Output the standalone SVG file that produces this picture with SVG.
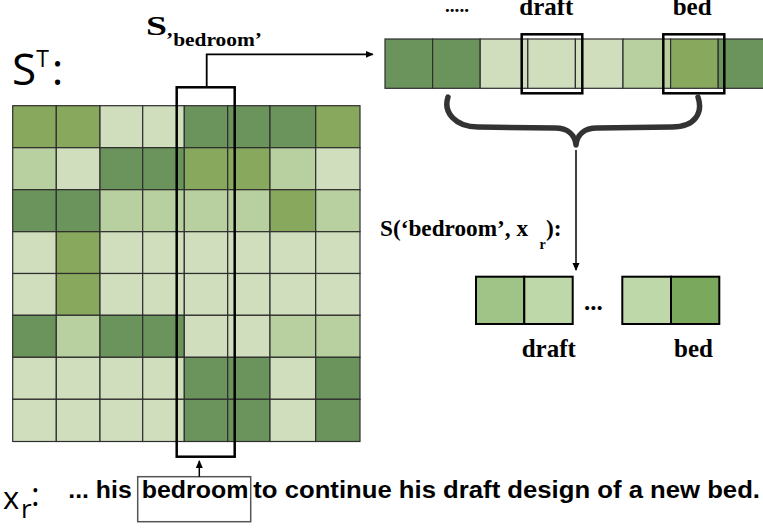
<svg xmlns="http://www.w3.org/2000/svg" width="763" height="529" viewBox="0 0 763 529">
<style>
.D{fill:#6b945c}.M{fill:#88a85e}.L{fill:#b8cf9f}.V{fill:#d0debe}
.g rect{stroke:#2e2e2e;stroke-width:1.2}
.serif{font-family:"Liberation Serif","Times New Roman",serif;font-weight:bold;fill:#000}
.sans{font-family:"Open Sans","Liberation Sans",sans-serif;fill:#000}
.arial{font-family:"Liberation Sans",Arial,sans-serif;font-weight:bold;fill:#000}
.box{fill:none;stroke:#000;stroke-width:2.5}
.line{fill:none;stroke:#000;stroke-width:1.8}
</style>
<defs>
<marker id="ah" markerWidth="8" markerHeight="8" refX="7" refY="4" orient="auto" markerUnits="userSpaceOnUse">
<path d="M0,0.5 L8,4 L0,7.5 Z" fill="#000"/>
</marker>
</defs>

<g id="label-ST">
<text class="sans" x="12" y="85" font-size="44">S<tspan font-size="23" dy="-18">T</tspan><tspan dx="3" dy="18">:</tspan></text>
</g>

<g id="matrix" class="g">
<rect class="M" x="12.7" y="105.7" width="43.6" height="42"/><rect class="M" x="56.3" y="105.7" width="43.7" height="42"/><rect class="V" x="100" y="105.7" width="42.7" height="42"/><rect class="V" x="142.7" y="105.7" width="41.6" height="42"/><rect class="D" x="184.3" y="105.7" width="43.4" height="42"/><rect class="D" x="227.7" y="105.7" width="42.3" height="42"/><rect class="D" x="270" y="105.7" width="45.7" height="42"/><rect class="M" x="315.7" y="105.7" width="44.3" height="42"/>
<rect class="L" x="12.7" y="147.7" width="43.6" height="42"/><rect class="V" x="56.3" y="147.7" width="43.7" height="42"/><rect class="D" x="100" y="147.7" width="42.7" height="42"/><rect class="D" x="142.7" y="147.7" width="41.6" height="42"/><rect class="M" x="184.3" y="147.7" width="43.4" height="42"/><rect class="M" x="227.7" y="147.7" width="42.3" height="42"/><rect class="L" x="270" y="147.7" width="45.7" height="42"/><rect class="V" x="315.7" y="147.7" width="44.3" height="42"/>
<rect class="D" x="12.7" y="189.7" width="43.6" height="42"/><rect class="D" x="56.3" y="189.7" width="43.7" height="42"/><rect class="L" x="100" y="189.7" width="42.7" height="42"/><rect class="L" x="142.7" y="189.7" width="41.6" height="42"/><rect class="L" x="184.3" y="189.7" width="43.4" height="42"/><rect class="L" x="227.7" y="189.7" width="42.3" height="42"/><rect class="M" x="270" y="189.7" width="45.7" height="42"/><rect class="L" x="315.7" y="189.7" width="44.3" height="42"/>
<rect class="V" x="12.7" y="231.7" width="43.6" height="41.8"/><rect class="M" x="56.3" y="231.7" width="43.7" height="41.8"/><rect class="V" x="100" y="231.7" width="42.7" height="41.8"/><rect class="V" x="142.7" y="231.7" width="41.6" height="41.8"/><rect class="V" x="184.3" y="231.7" width="43.4" height="41.8"/><rect class="V" x="227.7" y="231.7" width="42.3" height="41.8"/><rect class="V" x="270" y="231.7" width="45.7" height="41.8"/><rect class="V" x="315.7" y="231.7" width="44.3" height="41.8"/>
<rect class="V" x="12.7" y="273.5" width="43.6" height="41.8"/><rect class="M" x="56.3" y="273.5" width="43.7" height="41.8"/><rect class="V" x="100" y="273.5" width="42.7" height="41.8"/><rect class="V" x="142.7" y="273.5" width="41.6" height="41.8"/><rect class="V" x="184.3" y="273.5" width="43.4" height="41.8"/><rect class="V" x="227.7" y="273.5" width="42.3" height="41.8"/><rect class="V" x="270" y="273.5" width="45.7" height="41.8"/><rect class="V" x="315.7" y="273.5" width="44.3" height="41.8"/>
<rect class="D" x="12.7" y="315.3" width="43.6" height="42"/><rect class="L" x="56.3" y="315.3" width="43.7" height="42"/><rect class="D" x="100" y="315.3" width="42.7" height="42"/><rect class="D" x="142.7" y="315.3" width="41.6" height="42"/><rect class="V" x="184.3" y="315.3" width="43.4" height="42"/><rect class="V" x="227.7" y="315.3" width="42.3" height="42"/><rect class="L" x="270" y="315.3" width="45.7" height="42"/><rect class="L" x="315.7" y="315.3" width="44.3" height="42"/>
<rect class="V" x="12.7" y="357.3" width="43.6" height="42"/><rect class="V" x="56.3" y="357.3" width="43.7" height="42"/><rect class="V" x="100" y="357.3" width="42.7" height="42"/><rect class="V" x="142.7" y="357.3" width="41.6" height="42"/><rect class="D" x="184.3" y="357.3" width="43.4" height="42"/><rect class="D" x="227.7" y="357.3" width="42.3" height="42"/><rect class="V" x="270" y="357.3" width="45.7" height="42"/><rect class="D" x="315.7" y="357.3" width="44.3" height="42"/>
<rect class="V" x="12.7" y="399.3" width="43.6" height="42.2"/><rect class="V" x="56.3" y="399.3" width="43.7" height="42.2"/><rect class="V" x="100" y="399.3" width="42.7" height="42.2"/><rect class="V" x="142.7" y="399.3" width="41.6" height="42.2"/><rect class="D" x="184.3" y="399.3" width="43.4" height="42.2"/><rect class="D" x="227.7" y="399.3" width="42.3" height="42.2"/><rect class="V" x="270" y="399.3" width="45.7" height="42.2"/><rect class="D" x="315.7" y="399.3" width="44.3" height="42.2"/>
</g>

<g id="column-highlight">
<rect class="box" x="176.7" y="87.3" width="58" height="369.4"/>
</g>

<g id="label-S-bedroom">
<text class="serif" x="146" y="35" font-size="28" textLength="21" lengthAdjust="spacingAndGlyphs">S</text>
<text class="serif" x="166" y="46" font-size="19" textLength="96" lengthAdjust="spacingAndGlyphs">’bedroom’</text>
</g>

<g id="vector-row" class="g">
<rect class="D" x="385" y="39" width="47.6" height="49.3"/>
<rect class="D" x="432.6" y="39" width="47.6" height="49.3"/>
<rect class="V" x="480.2" y="39" width="47.6" height="49.3"/>
<rect class="V" x="527.8" y="39" width="47.6" height="49.3"/>
<rect class="V" x="575.4" y="39" width="47.6" height="49.3"/>
<rect class="L" x="623" y="39" width="47.6" height="49.3"/>
<rect class="M" x="670.6" y="39" width="47.6" height="49.3"/>
<rect class="D" x="718.2" y="39" width="47.6" height="49.3"/>
</g>
<g id="draft-highlight"><rect class="box" x="521.7" y="34.3" width="60.6" height="59"/></g>
<g id="bed-highlight"><rect class="box" x="663.3" y="34.3" width="61" height="59"/></g>

<g id="top-labels">
<text class="serif" x="445" y="12" font-size="19" textLength="24" lengthAdjust="spacingAndGlyphs">.....</text>
<text class="serif" x="519.3" y="15" font-size="25">draft</text>
<text class="serif" x="672.7" y="15" font-size="25">bed</text>
</g>

<g id="brace">
<path d="M448,97 C443,112 455,127 478,127 L555,128 C568,128 575,135 576,145 C577,135 584,128 597,128 L672,127 C696,127 703,112 698,97" fill="none" stroke="#333" stroke-width="5.5" stroke-linecap="round" stroke-linejoin="round"/>
</g>

<g id="label-S-bedroom-xr">
<text class="serif" x="380" y="236" font-size="23.5" textLength="148" lengthAdjust="spacingAndGlyphs">S(‘bedroom’, x</text>
<text class="serif" x="539.5" y="249" font-size="14">r</text>
<text class="serif" x="546" y="236" font-size="23.5">):</text>
</g>

<g id="result-row">
<rect x="476" y="276.7" width="48.3" height="47.3" fill="#a0c487" stroke="#000" stroke-width="2"/>
<rect x="524.3" y="276.7" width="48.4" height="47.3" fill="#bed8aa" stroke="#000" stroke-width="2"/>
<rect x="622.3" y="276.7" width="48.7" height="47.3" fill="#bed8aa" stroke="#000" stroke-width="2"/>
<rect x="671" y="276.7" width="48.3" height="47.3" fill="#7aa85c" stroke="#000" stroke-width="2"/>
<text class="serif" x="584" y="310" font-size="25">...</text>
<text class="serif" x="521.7" y="357" font-size="25">draft</text>
<text class="serif" x="674" y="357" font-size="25">bed</text>
</g>

<g id="sentence">
<text class="sans" x="3" y="509.3" font-size="31">x<tspan x="21" y="518" font-size="26">r</tspan><tspan x="31" y="505.5" font-size="33">:</tspan></text>
<text class="arial" x="68.3" y="498.3" font-size="23.5" textLength="63.4" lengthAdjust="spacingAndGlyphs">... his</text>
<rect x="137.7" y="476.7" width="113" height="45" fill="none" stroke="#555" stroke-width="1.5"/>
<text class="arial" x="141.7" y="498.3" font-size="23.5" textLength="106.6" lengthAdjust="spacingAndGlyphs">bedroom</text>
<text class="arial" x="253.3" y="498.3" font-size="23.5" textLength="506.7" lengthAdjust="spacingAndGlyphs">to continue his draft design of a new bed.</text>
</g>

<g id="connectors">
<path class="line" d="M206.7,87.3 V54.3 H372.7" marker-end="url(#ah)"/>
<path class="line" d="M576,150 V270" marker-end="url(#ah)" style="stroke-width:1.5"/>
<path class="line" d="M199.3,476.7 V461" marker-end="url(#ah)" style="stroke-width:1.5"/>
</g>
</svg>
